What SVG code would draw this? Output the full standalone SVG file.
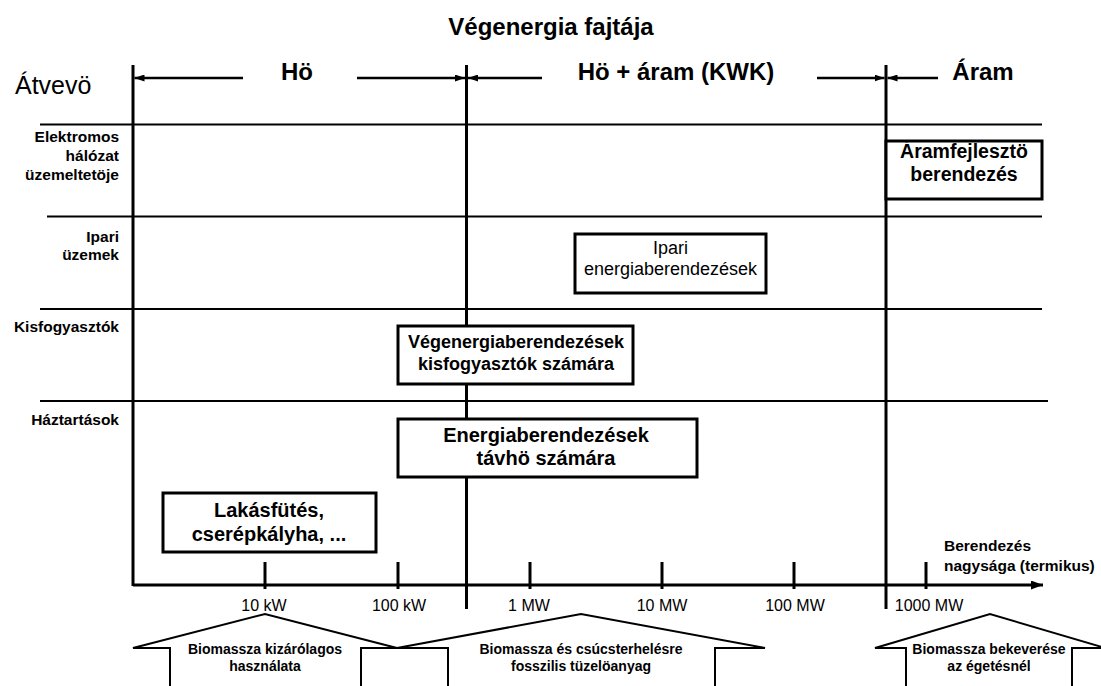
<svg xmlns="http://www.w3.org/2000/svg" width="1101" height="686" viewBox="0 0 1101 686">
  <style>
    text { font-family: "Liberation Sans", Arial, sans-serif; fill: #000; }
    .title { font-size: 24px; font-weight: bold; text-anchor: middle; }
    .band { font-size: 24px; font-weight: bold; text-anchor: middle; }
    .rowlbl { font-size: 15.5px; font-weight: bold; text-anchor: end; }
    .tick { font-size: 16px; text-anchor: middle; }
    .boxtxt { font-weight: bold; text-anchor: middle; }
    .small { font-size: 14px; font-weight: bold; text-anchor: middle; }
    .grid { stroke: #000; stroke-width: 2; fill: none; }
    .divider { stroke: #000; stroke-width: 3; fill: none; }
    .dim { stroke: #000; stroke-width: 2.5; fill: none; marker-end: url(#dimHead); }
    .box { fill: #fff; stroke: #000; stroke-width: 3; }
    .house { fill: #fff; stroke: #000; stroke-width: 2; stroke-linejoin: miter; }
  </style>
  <defs>
    <marker id="dimHead" markerUnits="userSpaceOnUse" markerWidth="10" markerHeight="7" refX="10" refY="3.5" orient="auto">
      <path d="M0,0 L10,3.5 L0,7 z" fill="#000"/>
    </marker>
    <marker id="axisHead" markerUnits="userSpaceOnUse" markerWidth="12" markerHeight="9" refX="12" refY="4.5" orient="auto">
      <path d="M0,0 L12,4.5 L0,9 z" fill="#000"/>
    </marker>
  </defs>
  <rect x="0" y="0" width="1101" height="686" fill="#fff"/>

  <!-- headings -->
  <text class="title" x="551" y="35">Végenergia fajtája</text>
  <text x="15" y="94" style="font-size:25px">Átvevö</text>
  <text class="band" x="297" y="80">Hö</text>
  <text class="band" x="676" y="80">Hö + áram (KWK)</text>
  <text class="band" x="983" y="80">Áram</text>

  <!-- row labels -->
  <g id="rows">
    <text class="rowlbl" x="119" y="142">Elektromos</text>
    <text class="rowlbl" x="119" y="161">hálózat</text>
    <text class="rowlbl" x="119" y="180">üzemeltetöje</text>
    <text class="rowlbl" x="119" y="242">Ipari</text>
    <text class="rowlbl" x="119" y="260">üzemek</text>
    <text class="rowlbl" x="119" y="332">Kisfogyasztók</text>
    <text class="rowlbl" x="119" y="425">Háztartások</text>
  </g>

  <!-- grid: row separators and column dividers -->
  <g id="grid">
    <line class="grid" x1="40" y1="124.5" x2="1042" y2="124.5"/>
    <line class="grid" x1="47" y1="216.5" x2="1042" y2="216.5"/>
    <line class="grid" x1="40" y1="309" x2="1042" y2="309"/>
    <line class="grid" x1="40" y1="401" x2="1048" y2="401"/>
    <line class="divider" x1="133" y1="65" x2="133" y2="586"/>
    <line class="divider" x1="466.5" y1="65" x2="466.5" y2="609"/>
    <line class="divider" x1="886" y1="65" x2="886" y2="609"/>
  </g>

  <!-- connectors: range arrows and size axis -->
  <g id="connectors">
    <line class="dim" x1="243" y1="78" x2="134.5" y2="78"/>
    <line class="dim" x1="357" y1="78" x2="465" y2="78"/>
    <line class="dim" x1="542" y1="78" x2="468" y2="78"/>
    <line class="dim" x1="817" y1="78" x2="884.5" y2="78"/>
    <line class="dim" x1="938" y1="78" x2="887.5" y2="78"/>
    <line x1="133" y1="585" x2="1043" y2="585" stroke="#000" stroke-width="3" marker-end="url(#axisHead)"/>
    <g stroke="#000" stroke-width="3">
      <line x1="265" y1="562" x2="265" y2="589"/>
      <line x1="398" y1="562" x2="398" y2="589"/>
      <line x1="530" y1="562" x2="530" y2="589"/>
      <line x1="662" y1="562" x2="662" y2="589"/>
      <line x1="794" y1="562" x2="794" y2="589"/>
      <line x1="926" y1="562" x2="926" y2="589"/>
    </g>
  </g>

  <!-- axis labels -->
  <g id="axis-labels">
    <text class="tick" x="264" y="611">10 kW</text>
    <text class="tick" x="399" y="611">100 kW</text>
    <text class="tick" x="529" y="611">1 MW</text>
    <text class="tick" x="662" y="611">10 MW</text>
    <text class="tick" x="795" y="611">100 MW</text>
    <text class="tick" x="929" y="611">1000 MW</text>
    <text x="944" y="551" style="font-size:15.5px;font-weight:bold">Berendezés</text>
    <text x="944" y="571" style="font-size:15.5px;font-weight:bold">nagysága (termikus)</text>
  </g>

  <!-- equipment boxes -->
  <g id="aramfejleszto">
    <rect class="box" x="886" y="141" width="156" height="58"/>
    <text class="boxtxt" x="964" y="158" style="font-size:19.5px">Áramfejlesztö</text>
    <text class="boxtxt" x="964" y="181" style="font-size:19.5px">berendezés</text>
  </g>
  <g id="ipari">
    <rect class="box" x="575" y="234" width="191" height="59"/>
    <text x="670.5" y="254" style="font-size:18px;text-anchor:middle">Ipari</text>
    <text x="670.5" y="275" style="font-size:18px;text-anchor:middle">energiaberendezések</text>
  </g>
  <g id="kisfogyasztok">
    <rect class="box" x="398" y="326" width="235" height="58"/>
    <text class="boxtxt" x="516" y="348" style="font-size:18px">Végenergiaberendezések</text>
    <text class="boxtxt" x="516" y="370" style="font-size:18px">kisfogyasztók számára</text>
  </g>
  <g id="tavho">
    <rect class="box" x="398" y="419" width="299" height="58"/>
    <text class="boxtxt" x="546" y="442" style="font-size:20px">Energiaberendezések</text>
    <text class="boxtxt" x="546" y="465" style="font-size:20px">távhö számára</text>
  </g>
  <g id="lakasfutes">
    <rect class="box" x="163" y="493" width="213" height="59"/>
    <text class="boxtxt" x="269" y="517" style="font-size:20px">Lakásfütés,</text>
    <text class="boxtxt" x="269" y="541" style="font-size:20px">cserépkályha, ...</text>
  </g>

  <!-- fuel-use block arrows -->
  <g id="biomassza-kizarolagos">
    <path class="house" d="M170,690 L170,648 L133,648 L265,614 L397,648 L361,648 L361,690"/>
    <text class="small" x="265" y="654">Biomassza kizárólagos</text>
    <text class="small" x="265" y="671">használata</text>
  </g>
  <g id="biomassza-fosszilis">
    <path class="house" d="M448,690 L448,648 L397,648 L581,614 L765,648 L715,648 L715,690"/>
    <text class="small" x="581" y="654">Biomassza és csúcsterhelésre</text>
    <text class="small" x="581" y="671">fosszilis tüzelöanyag</text>
  </g>
  <g id="biomassza-bekeveres">
    <path class="house" d="M906,690 L906,648 L875,648 L990,614 L1105,648 L1072,648 L1072,690"/>
    <text class="small" x="989" y="654">Biomassza bekeverése</text>
    <text class="small" x="989" y="671">az égetésnél</text>
  </g>
</svg>
